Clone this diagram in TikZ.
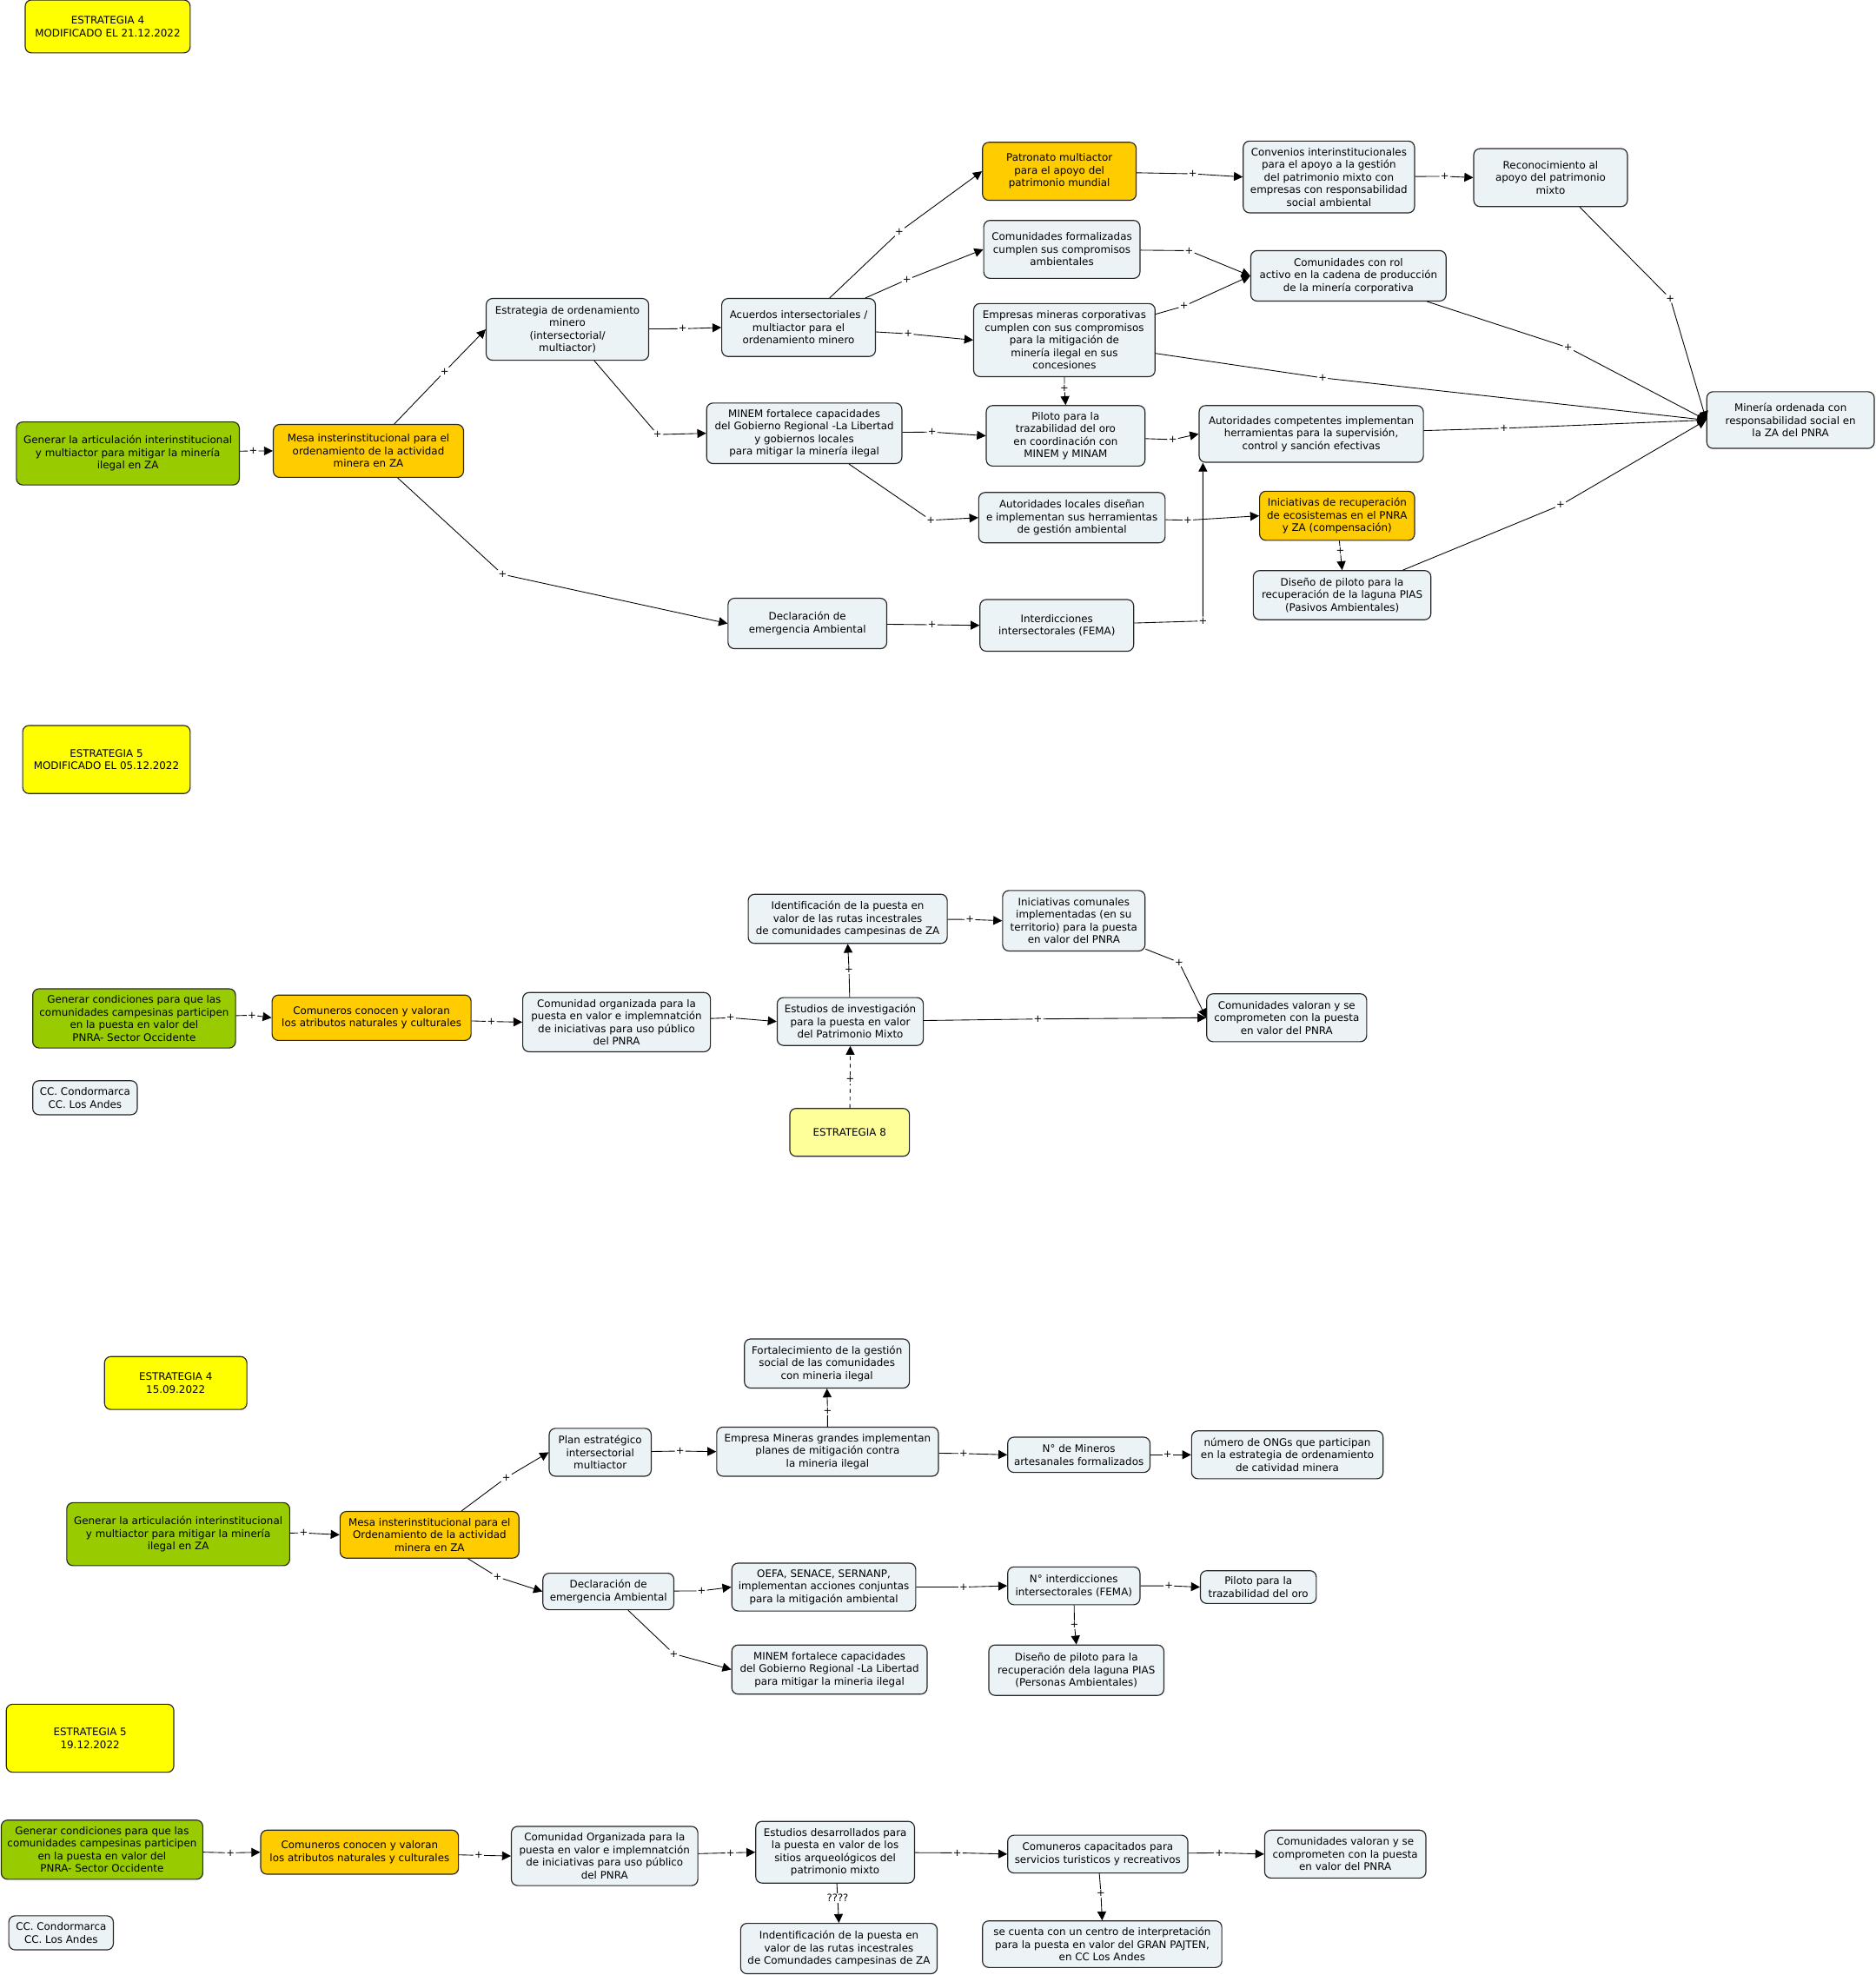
\documentclass[tikz,border=0pt]{standalone}
\usepackage{fontspec}
\setmainfont{DejaVu Sans}
\usetikzlibrary{arrows.meta}
\definecolor{boxfill}{HTML}{EBF3F6}
\definecolor{cgreen}{HTML}{99CC00}
\definecolor{corange}{HTML}{FFCC00}
\definecolor{cyellow}{HTML}{FFFF00}
\definecolor{clyellow}{HTML}{FFFF99}
\begin{document}
\begin{tikzpicture}[x=1pt,y=-1pt,
  box/.style={draw=black!85, rounded corners=5pt, fill=boxfill, align=center, inner sep=1pt, line width=0.8pt, font=\fontsize{8.2}{10}\selectfont},
  sz/.style 2 args={minimum width=#1pt, minimum height=#2pt},
  gbox/.style={box, fill=cgreen},
  obox/.style={box, fill=corange},
  ybox/.style={box, fill=cyellow},
  lybox/.style={box, fill=clyellow},
  pl/.style={inner sep=0.7pt, font=\fontsize{8}{8}\selectfont},
  ar/.style={line width=0.6pt, -{Triangle[length=7pt,width=7pt]}},
]
\path[use as bounding box] (0,0) rectangle (1489,1568);

% ===== Section 1 =====
\node[ybox, sz={131}{42}] (T1) at (85.5,21) {ESTRATEGIA 4\\MODIFICADO EL 21.12.2022};
\node[gbox, sz={177}{50}] (A) at (101.5,360) {Generar la articulación interinstitucional\\y multiactor para mitigar la minería\\ilegal en ZA};
\node[obox, sz={151}{42}] (B) at (292.5,358) {Mesa insterinstitucional para el\\ordenamiento de la actividad\\minera  en ZA};
\node[box, sz={129}{49}] (C) at (450.5,261.5) {Estrategia de ordenamiento\\minero\\(intersectorial/\\multiactor)};
\node[box, sz={122}{46}] (D) at (634,260) {Acuerdos intersectoriales /\\multiactor para el\\ordenamiento minero};
\node[obox, sz={122}{46}] (E) at (841,136) {Patronato multiactor\\para el apoyo del\\patrimonio mundial};
\node[box, sz={124}{46}] (F) at (843,198) {Comunidades formalizadas\\cumplen sus compromisos\\ambientales};
\node[box, sz={144}{58}] (G) at (845,270) {Empresas mineras corporativas\\cumplen con sus compromisos\\para la mitigación de\\minería ilegal en sus\\concesiones};
\node[box, sz={136}{57}] (H) at (1055,140.5) {Convenios interinstitucionales\\para el apoyo a la gestión\\del patrimonio mixto con\\empresas con responsabilidad\\social ambiental};
\node[box, sz={122}{46}] (I) at (1231,141) {Reconocimiento al\\apoyo del patrimonio\\mixto};
\node[box, sz={155}{40}] (J) at (1070.5,219) {Comunidades con rol\\activo en la cadena de producción\\de la minería corporativa};
\node[box, sz={133}{45}] (K) at (1421.5,333.5) {Minería ordenada con\\responsabilidad social en\\la ZA del PNRA};
\node[box, sz={178}{45}] (L) at (1041,344.5) {Autoridades competentes implementan\\herramientas para la supervisión,\\control y sanción efectivas};
\node[box, sz={155}{48}] (M) at (638.5,344) {MINEM fortalece capacidades\\del Gobierno Regional -La Libertad\\y gobiernos locales\\para mitigar la minería ilegal};
\node[box, sz={126}{48}] (N) at (846,346) {Piloto para la\\trazabilidad del oro\\en coordinación con\\MINEM y MINAM};
\node[box, sz={148}{40}] (O) at (851,411) {Autoridades locales diseñan\\e implementan sus herramientas\\de gestión ambiental};
\node[obox, sz={123}{39}] (P) at (1061.5,409.5) {Iniciativas de recuperación\\de ecosistemas en el PNRA\\y ZA (compensación)};
\node[box, sz={141}{39}] (Q) at (1065.5,472.5) {Diseño de piloto para la\\recuperación de la laguna PIAS\\(Pasivos Ambientales)};
\node[box, sz={126}{40}] (R) at (641,495) {Declaración de\\emergencia Ambiental};
\node[box, sz={122}{41}] (S) at (839,496.5) {Interdicciones\\intersectorales (FEMA)};

\node[pl] (p1) at (201,358) {+};
\node[pl] (p2) at (353,295) {+};
\node[pl] (p3) at (399,456) {+};
\node[pl] (p4) at (542,261) {+};
\node[pl] (p5) at (522,345) {+};
\node[pl] (p6) at (714,184) {+};
\node[pl] (p7) at (720,222) {+};
\node[pl] (p8) at (721,265) {+};
\node[pl] (p9) at (947,138) {+};
\node[pl] (p10) at (1147,140) {+};
\node[pl] (p11) at (944,199) {+};
\node[pl] (p12) at (940,243) {+};
\node[pl] (p13) at (1050,300) {+};
\node[pl] (p14) at (1326,237) {+};
\node[pl] (p15) at (1245,276) {+};
\node[pl] (p16) at (1194,340) {+};
\node[pl] (p17) at (1239,401) {+};
\node[pl] (p18) at (845,308) {+};
\node[pl] (p19) at (740,343) {+};
\node[pl] (p20) at (739,413) {+};
\node[pl] (p21) at (931,349) {+};
\node[pl] (p22) at (943,413) {+};
\node[pl] (p23) at (1064,437) {+};
\node[pl] (p24) at (740,496) {+};
\node[pl] (p25) at (955,493) {+};

\draw[ar] (A) -- (p1) -- (B.west);
\draw[ar] (B) -- (p2) -- (C.west);
\draw[ar] (B) -- (p3) -- (R.west);
\draw[ar] (C) -- (p4) -- (D.west);
\draw[ar] (C) -- (p5) -- (M.west);
\draw[ar] (D) -- (p6) -- (E.west);
\draw[ar] (D) -- (p7) -- (F.west);
\draw[ar] (D) -- (p8) -- (G.west);
\draw[ar] (E) -- (p9) -- (H.west);
\draw[ar] (H) -- (p10) -- (I.west);
\draw[ar] (F) -- (p11) -- (J.west);
\draw[ar] (G) -- (p12) -- (J.west);
\draw[ar] (G) -- (p13) -- (K.west);
\draw[ar] (I) -- (p14) -- (K.west);
\draw[ar] (J) -- (p15) -- (K.west);
\draw[ar] (L) -- (p16) -- (K.west);
\draw[ar] (Q) -- (p17) -- (K.west);
\draw[ar] (G) -- (p18) -- (N.north);
\draw[ar] (M) -- (p19) -- (N.west);
\draw[ar] (M) -- (p20) -- (O.west);
\draw[ar] (N) -- (p21) -- (L.west);
\draw[ar] (O) -- (p22) -- (P.west);
\draw[ar] (P) -- (p23) -- (Q.north);
\draw[ar] (R) -- (p24) -- (S.west);
\draw[ar] (S) -- (p25) -- (p25 |- L.south);

% ===== Section 2 =====
\node[ybox, sz={133}{54}] (T2) at (84.5,603) {ESTRATEGIA 5\\MODIFICADO EL 05.12.2022};
\node[gbox, sz={161}{47}] (U) at (106.5,808.5) {Generar condiciones  para que las\\comunidades campesinas participen\\en la puesta en valor del\\PNRA- Sector Occidente};
\node[obox, sz={158}{36}] (V) at (295,808) {Comuneros conocen y valoran\\los atributos naturales y culturales};
\node[box, sz={149}{47}] (W) at (489.5,811.5) {Comunidad organizada para la\\puesta en valor e implemnatción\\de iniciativas para uso público\\del PNRA};
\node[box, sz={83}{27}] (CC1) at (67.5,871.5) {CC. Condormarca\\CC. Los Andes};
\node[box, sz={158}{39}] (X) at (673,729.5) {Identificación de la puesta en\\valor de las rutas incestrales\\de comunidades campesinas de ZA};
\node[box, sz={113}{48}] (Y) at (852.5,731) {Iniciativas comunales\\implementadas (en su\\territorio) para la puesta\\en valor del PNRA};
\node[box, sz={116}{38}] (Z) at (675,811) {Estudios de investigación\\para la puesta en valor\\del Patrimonio Mixto};
\node[box, sz={127}{38}] (AA) at (1021.5,808) {Comunidades valoran y se\\comprometen con la puesta\\en valor del PNRA};
\node[lybox, sz={95}{38}] (BB) at (674.5,899) {ESTRATEGIA 8};

\node[pl] (q1) at (200,806) {+};
\node[pl] (q2) at (390,811) {+};
\node[pl] (q3) at (580,808) {+};
\node[pl] (q4) at (674,770) {+};
\node[pl] (q5) at (770,730) {+};
\node[pl] (q6) at (936,764) {+};
\node[pl] (q7) at (824,809) {+};
\node[pl] (q8) at (675,857) {+};

\draw[ar] (U) -- (q1) -- (V.west);
\draw[ar] (V) -- (q2) -- (W.west);
\draw[ar] (W) -- (q3) -- (Z.west);
\draw[ar] (Z) -- (q4) -- (X.south);
\draw[ar] (X) -- (q5) -- (Y.west);
\draw[ar] (Y) -- (q6) -- (AA.west);
\draw[ar] (Z) -- (q7) -- (AA.west);
\draw[ar, dashed] (BB) -- (q8) -- (Z.south);

% ===== Section 3 =====
\node[ybox, sz={113}{42}] (T3) at (139.5,1098) {ESTRATEGIA 4\\15.09.2022};
\node[gbox, sz={177}{50}] (A2) at (141.5,1218) {Generar la articulación interinstitucional\\y multiactor para mitigar la minería\\ilegal en ZA};
\node[obox, sz={142}{37}] (B2) at (341,1218.5) {Mesa insterinstitucional para el\\Ordenamiento de la actividad\\minera  en ZA};
\node[box, sz={81}{38}] (C2) at (476.5,1153) {Plan estratégico\\intersectorial\\multiactor};
\node[box, sz={176}{39}] (D2) at (657,1152.5) {Empresa Mineras grandes implementan\\planes de mitigación contra\\la mineria ilegal};
\node[box, sz={131}{39}] (E2) at (656.5,1082.5) {Fortalecimiento de la gestión\\social  de las comunidades\\con mineria ilegal};
\node[box, sz={113}{28}] (F2) at (856.5,1155) {N° de Mineros\\artesanales formalizados};
\node[box, sz={152}{38}] (G2) at (1022,1155) {número de ONGs que participan\\en la estrategia de ordenamiento\\de catividad minera};
\node[box, sz={105}{30}] (H2) at (852.5,1259) {N° interdicciones\\intersectorales (FEMA)};
\node[box, sz={92}{26}] (I2) at (999,1260) {Piloto para la\\trazabilidad del oro};
\node[box, sz={139}{40}] (J2) at (854.5,1326) {Diseño de piloto para la\\recuperación dela laguna PIAS\\(Personas Ambientales)};
\node[box, sz={104}{29}] (K2) at (483,1263.5) {Declaración de\\emergencia Ambiental};
\node[box, sz={146}{38}] (L2) at (654,1260) {OEFA, SENACE, SERNANP,\\implementan acciones conjuntas\\para la mitigación ambiental};
\node[box, sz={155}{39}] (M2) at (658.5,1325.5) {MINEM fortalece capacidades\\del Gobierno Regional -La Libertad\\para mitigar la mineria ilegal};

\node[pl] (r1) at (241,1217) {+};
\node[pl] (r2) at (402,1173) {+};
\node[pl] (r3) at (395,1252) {+};
\node[pl] (r4) at (540,1152) {+};
\node[pl] (r5) at (657,1120) {+};
\node[pl] (r6) at (765,1154) {+};
\node[pl] (r7) at (927,1155) {+};
\node[pl] (r8) at (557,1263) {+};
\node[pl] (r9) at (535,1313) {+};
\node[pl] (r10) at (765,1260) {+};
\node[pl] (r11) at (928,1259) {+};
\node[pl] (r12) at (853,1290) {+};

\draw[ar] (A2) -- (r1) -- (B2.west);
\draw[ar] (B2) -- (r2) -- (C2.west);
\draw[ar] (B2) -- (r3) -- (K2.west);
\draw[ar] (C2) -- (r4) -- (D2.west);
\draw[ar] (D2) -- (r5) -- (E2.south);
\draw[ar] (D2) -- (r6) -- (F2.west);
\draw[ar] (F2) -- (r7) -- (G2.west);
\draw[ar] (K2) -- (r8) -- (L2.west);
\draw[ar] (K2) -- (r9) -- (M2.west);
\draw[ar] (L2) -- (r10) -- (H2.west);
\draw[ar] (H2) -- (r11) -- (I2.west);
\draw[ar] (H2) -- (r12) -- (J2.north);

% ===== Section 4 =====
\node[ybox, sz={133}{54}] (T4) at (71.5,1380) {ESTRATEGIA 5\\19.12.2022};
\node[gbox, sz={160}{47}] (U2) at (81,1468.5) {Generar condiciones  para que las\\comunidades campesinas participen\\en la puesta en valor del\\PNRA- Sector Occidente};
\node[obox, sz={157}{35}] (V2) at (285.5,1470.5) {Comuneros conocen y valoran\\los atributos naturales y culturales};
\node[box, sz={148}{47}] (W2) at (480,1473.5) {Comunidad Organizada para la\\puesta en valor e implemnatción\\de iniciativas para uso público\\del PNRA};
\node[box, sz={126}{49}] (X2) at (663,1470.5) {Estudios desarrollados para\\la puesta en valor de los\\sitios arqueológicos del\\patrimonio mixto};
\node[box, sz={83}{27}] (CC2) at (48.5,1534.5) {CC. Condormarca\\CC. Los Andes};
\node[box, sz={156}{40}] (Y2) at (666,1547) {Indentificación de la puesta en\\valor de las rutas incestrales\\de Comundades campesinas de ZA};
\node[box, sz={143}{30}] (Z2) at (871.5,1472) {Comuneros capacitados para\\servicios turisticos y recreativos};
\node[box, sz={128}{38}] (AA2) at (1068,1472) {Comunidades valoran y se\\comprometen con la puesta\\en valor del PNRA};
\node[box, sz={190}{37}] (BB2) at (875,1543.5) {se cuenta con un centro de interpretación\\para la puesta en valor del GRAN PAJTEN,\\en CC Los Andes};

\node[pl] (s1) at (183,1471) {+};
\node[pl] (s2) at (380,1473) {+};
\node[pl] (s3) at (580,1471) {+};
\node[pl] (s4) at (665,1507) {????};
\node[pl] (s5) at (760,1471) {+};
\node[pl] (s6) at (968,1471) {+};
\node[pl] (s7) at (874,1503) {+};

\draw[ar] (U2) -- (s1) -- (V2.west);
\draw[ar] (V2) -- (s2) -- (W2.west);
\draw[ar] (W2) -- (s3) -- (X2.west);
\draw[ar] (X2) -- (s4) -- (Y2.north);
\draw[ar] (X2) -- (s5) -- (Z2.west);
\draw[ar] (Z2) -- (s6) -- (AA2.west);
\draw[ar] (Z2) -- (s7) -- (BB2.north);
\end{tikzpicture}
\end{document}
